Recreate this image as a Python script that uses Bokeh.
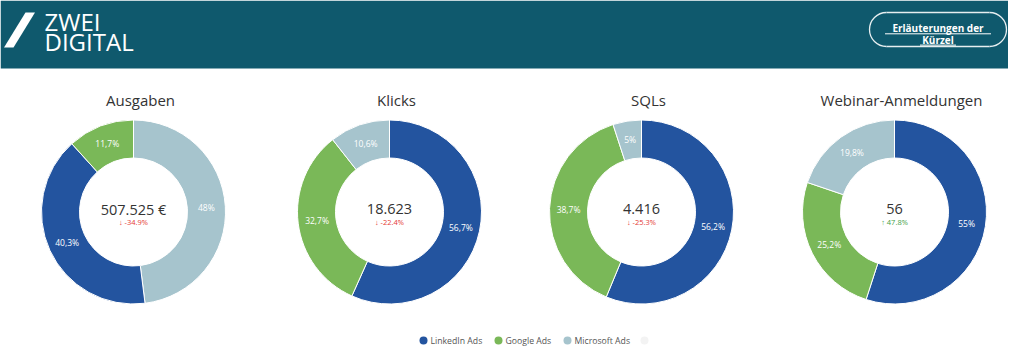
import math
from bokeh.plotting import figure
from bokeh.models import Range1d
from bokeh.core.properties import value
from bokeh.embed import file_html
from bokeh.resources import INLINE

# ---------------- data ----------------
metrics = ["Ausgaben", "Klicks", "SQLs", "Webinar-Anmeldungen"]
totals = ["507.525 €", "18.623", "4.416", "56"]
changes = [-34.9, -22.4, -25.3, 47.8]
series = ["LinkedIn Ads", "Google Ads", "Microsoft Ads"]
linkedin = [40.3, 56.7, 56.2, 55.0]
google = [11.7, 32.7, 38.7, 25.2]
microsoft = [48.0, 10.6, 5.0, 19.8]
header_title = ["ZWEI", "DIGITAL"]
button_text = ["Erläuterungen der", "Kürzel"]

# ---------------- styles / layout ----------------
FONT = "Open Sans"
TEAL = "#0F596D"
COLORS = ["#23549F", "#7AB858", "#A6C4CD"]
W, H = 1008, 346


def X(rx):
    return rx


def Y(ry):
    return H - ry


donut_cx = [133, 389, 641, 894]
donut_cy = 211.5
R_OUT, R_IN = 92, 54
title_dx = 7

p = figure(width=W, height=H, x_range=Range1d(0, W), y_range=Range1d(0, H),
           output_backend="svg", toolbar_location=None, min_border=0,
           x_axis_location=None, y_axis_location=None)
p.grid.visible = False
p.outline_line_color = None
p.background_fill_color = "white"
p.border_fill_color = "white"

# ---------------- header ----------------
p.quad(left=[0], right=[W], bottom=[Y(68)], top=[H], fill_color=TEAL, line_color=None)
p.patch([X(25), X(34.5), X(13), X(3.5)], [Y(12), Y(12), Y(47), Y(47)],
        fill_color="white", line_color=None)
p.text(x=[X(44), X(44)], y=[Y(20.5), Y(40.5)], text=header_title,
       text_font=value(FONT), text_font_size="24px", text_color="white",
       text_baseline="middle", text_align="left")

# pill button
bl, br, bt, bb = 869, 1006, 12, 46
bcx = (bl + br) / 2
rr = (bb - bt) / 2
p.segment(x0=[X(bl + rr), X(bl + rr)], y0=[Y(bt), Y(bb)], x1=[X(br - rr), X(br - rr)], y1=[Y(bt), Y(bb)],
          line_color="#E6EEF0", line_width=1.3)
p.arc(x=[X(bl + rr)], y=[Y(bt + rr)], radius=rr, start_angle=math.pi / 2, end_angle=3 * math.pi / 2,
      line_color="#E6EEF0", line_width=1.3)
p.arc(x=[X(br - rr)], y=[Y(bt + rr)], radius=rr, start_angle=-math.pi / 2, end_angle=math.pi / 2,
      line_color="#E6EEF0", line_width=1.3)
p.text(x=[X(bcx), X(bcx)], y=[Y(27.8), Y(39.3)], text=button_text,
       text_font=value(FONT), text_font_size="10px", text_font_style="bold",
       text_color="white", text_align="center", text_baseline="middle")
p.segment(x0=[X(bcx - 53), X(bcx - 18)], y0=[Y(33.3), Y(44.6)],
          x1=[X(bcx + 53), X(bcx + 18)], y1=[Y(33.3), Y(44.6)],
          line_color="white", line_width=1)

# ---------------- donuts ----------------
for i, m in enumerate(metrics):
    vals = [linkedin[i], google[i], microsoft[i]]
    order = sorted(range(3), key=lambda k: -vals[k])
    cx, cy = X(donut_cx[i]), Y(donut_cy)
    total = sum(vals)
    cum = 0.0
    for k in order:
        t0 = cum / total * 2 * math.pi
        cum += vals[k]
        t1 = cum / total * 2 * math.pi
        a0 = math.pi / 2 - t0
        a1 = math.pi / 2 - t1
        p.annular_wedge(x=[cx], y=[cy], inner_radius=R_IN, outer_radius=R_OUT,
                        start_angle=a0, end_angle=a1, direction="clock",
                        fill_color=COLORS[k], line_color="white", line_width=1)
        mid = (a0 + a1) / 2
        rm = (R_IN + R_OUT) / 2
        lab = f"{vals[k]:g}".replace(".", ",") + "%"
        p.text(x=[cx + rm * math.cos(mid)], y=[cy + rm * math.sin(mid)], text=[lab],
               text_font=value(FONT), text_font_size="8.5px", text_color="white",
               text_align="center", text_baseline="middle")
    # title
    p.text(x=[cx + title_dx], y=[Y(99)], text=[m], text_font=value(FONT),
           text_font_size="15px", text_color="#333333", text_align="center",
           text_baseline="middle")
    # total
    p.text(x=[cx], y=[Y(208.5)], text=[totals[i]], text_font=value(FONT),
           text_font_size="14.5px", text_color="#333333", text_align="center",
           text_baseline="middle")
    c = changes[i]
    arrow = "↓" if c < 0 else "↑"
    ccol = "#E53935" if c < 0 else "#43A047"
    p.text(x=[cx], y=[Y(221)], text=[f"{arrow} {c:.1f}%"], text_font=value(FONT),
           text_font_size="7.5px", text_color=ccol, text_align="center",
           text_baseline="middle")

# ---------------- legend ----------------
leg_x = [423, 498, 567]
leg_y = 340
for k, s in enumerate(series):
    p.scatter(x=[X(leg_x[k])], y=[Y(leg_y)], size=8, marker="circle",
              fill_color=COLORS[k], line_color=None)
    p.text(x=[X(leg_x[k] + 7)], y=[Y(leg_y)], text=[s], text_font=value(FONT),
           text_font_size="8.7px", text_color="#555555", text_align="left",
           text_baseline="middle")
p.scatter(x=[X(644)], y=[Y(leg_y)], size=8, marker="circle", fill_color="#F3F3F3", line_color=None)

open("out.html", "w").write(file_html(p, INLINE))
